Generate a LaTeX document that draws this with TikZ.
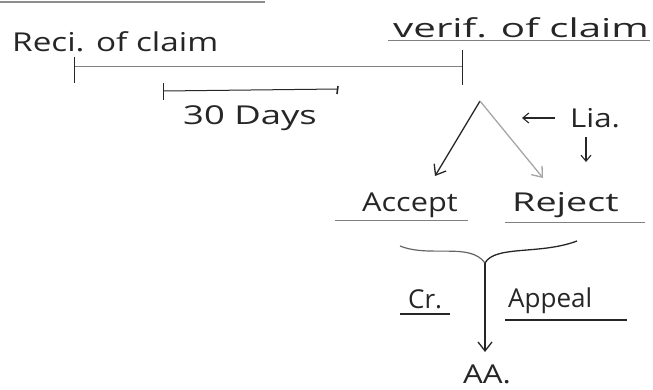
\documentclass[tikz,border=0pt]{standalone}
\usepackage{fontspec}
\setmainfont{Open Sans}
\usetikzlibrary{arrows.meta}
% widen a handwritten word by a given factor
\newcommand{\wide}[2]{\scalebox{#1}[1]{#2}}
\begin{document}
\begin{tikzpicture}[x=1pt,y=-1pt,
  hand/.style={font=\fontsize{26}{28}\selectfont, text=black!85, inner sep=0pt},
  rule/.style={draw=black!50, line width=1pt},
  ink/.style={draw=black!85, line width=1.3pt},
  faint/.style={draw=black!35, line width=1.3pt},
  barb/.style={-{Straight Barb[length=9pt,width=14pt]}}]
\useasboundingbox (0,0) rectangle (653,389);

% stray rule at the top edge
\coordinate (top0) at (0,2);
\coordinate (top1) at (265,2);
\draw[draw=black!45, line width=2pt] (top0) -- (top1);

% headings
\node[hand, anchor=west] (reci) at (12,42) {\wide{1.28}{Reci. of claim}};
\node[hand, anchor=west] (verif) at (393,28) {\wide{1.55}{verif. of claim}};
\coordinate (vu0) at (388,40);
\coordinate (vu1) at (650,40);
\draw[rule] (vu0) -- (vu1);

% main time line
\coordinate (t0) at (74,66);
\coordinate (t1) at (462,66);
\draw[rule] (t0) -- (t1);
\draw[ink, line width=1pt] (t0) ++(0,-9) -- ++(0,26);
\draw[ink, line width=1pt] (t1) ++(0,-16) -- ++(0,35);

% 30 day span
\coordinate (d0) at (163,91);
\coordinate (d1) at (338,89);
\draw[ink, line width=1pt] (d0) -- (d1);
\draw[ink, line width=1pt] (d0) ++(0,-8) -- ++(0,17);
\draw[ink, line width=1.6pt] (d1) ++(0,-3) -- ++(-1,8);
\node[hand, anchor=west] (days) at (183,118) {\wide{1.4}{30 Days}};

% decision split
\coordinate (apex) at (480,101);
\coordinate (aL) at (435,176);
\coordinate (aR) at (543,178);
\draw[ink, barb] (apex) -- (aL);
\draw[faint, barb] (apex) -- (aR);

\node[hand, anchor=west] (lia) at (570,118) {\wide{1.2}{Lia.}};
\coordinate (liaA) at (522,118);
\draw[ink, line width=1.1pt, -{Straight Barb[length=6pt,width=10pt]}] (lia.west) ++(-15,0) -- (liaA);
\coordinate (liaD0) at (586,137);
\coordinate (liaD1) at (586,162);
\draw[ink, line width=1.1pt, -{Straight Barb[length=6pt,width=10pt]}] (liaD0) -- (liaD1);

\node[hand, anchor=west] (accept) at (362,205) {\wide{1.18}{Accept}};
\node[hand, anchor=west] (reject) at (512,205) {\wide{1.45}{Reject}};
\coordinate (au0) at (335,220);
\coordinate (au1) at (468,220);
\coordinate (ru0) at (505,222);
\coordinate (ru1) at (645,222);
\draw[rule] (au0) -- (au1);
\draw[rule] (ru0) -- (ru1);

% brace joining both outcomes
\coordinate (bL) at (400,246);
\coordinate (bC) at (485,263);
\coordinate (bR) at (577,241);
\coordinate (aa) at (485,352);
\draw[draw=black!60, line width=1.2pt] (bL) .. controls (430,258) and (470,242) .. (bC);
\draw[ink] (bC) .. controls (495,245) and (540,255) .. (bR);
\draw[ink, barb] (bC) -- (aa);

\node[hand, anchor=west] (cr) at (408,299) {Cr.};
\node[hand, anchor=west] (appeal) at (508,301) {Appeal};
\coordinate (cu0) at (400,314);
\coordinate (cu1) at (450,314);
\coordinate (pu0) at (505,320);
\coordinate (pu1) at (627,320);
\draw[ink, line width=1.6pt] (cu0) -- (cu1);
\draw[ink, line width=1.8pt] (pu0) -- (pu1);

\node[hand, anchor=west] (aanode) at (463,374) {\wide{1.2}{AA.}};
\end{tikzpicture}
\end{document}
